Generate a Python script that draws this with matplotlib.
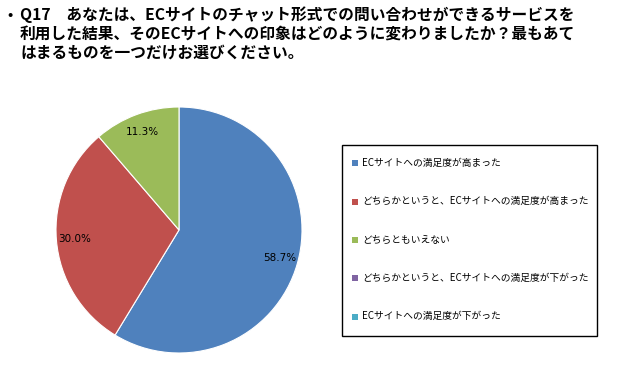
import matplotlib
matplotlib.use("Agg")
import matplotlib.pyplot as plt
from matplotlib.patches import Rectangle

plt.rcParams['font.family'] = ['Noto Sans CJK JP', 'DejaVu Sans']

categories = [
    "ECサイトへの満足度が高まった",
    "どちらかというと、ECサイトへの満足度が高まった",
    "どちらともいえない",
    "どちらかというと、ECサイトへの満足度が下がった",
    "ECサイトへの満足度が下がった",
]
values = [58.7, 30.0, 11.3, 0.0, 0.0]
colors = ["#4F81BD", "#C0504D", "#9BBB59", "#8064A2", "#4BACC6"]
title_lines = [
    "Q17　あなたは、ECサイトのチャット形式での問い合わせができるサービスを",
    "利用した結果、そのECサイトへの印象はどのように変わりましたか？最もあて",
    "はまるものを一つだけお選びください。",
]

W, H = 619, 370
fig = plt.figure(figsize=(W / 100, H / 100), dpi=100)

# title
fig.text(7 / W, 1 - 15 / H, "•", fontsize=10, fontweight="bold", va="center", ha="left")
for i, line in enumerate(title_lines):
    fig.text(20 / W, 1 - (15 + 19 * i) / H, line, fontsize=11.3, fontweight="bold",
             va="center", ha="left")

# pie
cx, cy, r = 179, 230, 123
ax = fig.add_axes([(cx - r) / W, (H - cy - r) / H, 2 * r / W, 2 * r / H])
nz = [(v, c) for v, c in zip(values, colors) if v > 0]
wedges, texts, autotexts = ax.pie(
    [v for v, _ in nz], colors=[c for _, c in nz], startangle=90, counterclock=False,
    autopct=lambda p: f"{p:.1f}%", pctdistance=0.85,
    wedgeprops=dict(edgecolor="white", linewidth=0.8),
    textprops=dict(fontsize=7.5, family=['DejaVu Sans']),
)
ax.set_aspect("equal")
ax.set_xlim(-1, 1)
ax.set_ylim(-1, 1)

# legend box
lx0, ly0, lx1, ly1 = 342, 145, 597, 336
fig.patches.append(Rectangle((lx0 / W, 1 - ly1 / H), (lx1 - lx0) / W, (ly1 - ly0) / H,
                             transform=fig.transFigure, fill=False, edgecolor="black",
                             linewidth=1.0))
for i, (lab, col) in enumerate(zip(categories, colors)):
    y = 163 + 38.3 * i
    fig.patches.append(Rectangle((352 / W, 1 - (y + 3.5) / H), 6 / W, 6 / H,
                                 transform=fig.transFigure, facecolor=col, edgecolor="none"))
    fig.text(362 / W, 1 - y / H, lab, fontsize=7, va="center", ha="left")

fig.savefig("out.png", dpi=100)
